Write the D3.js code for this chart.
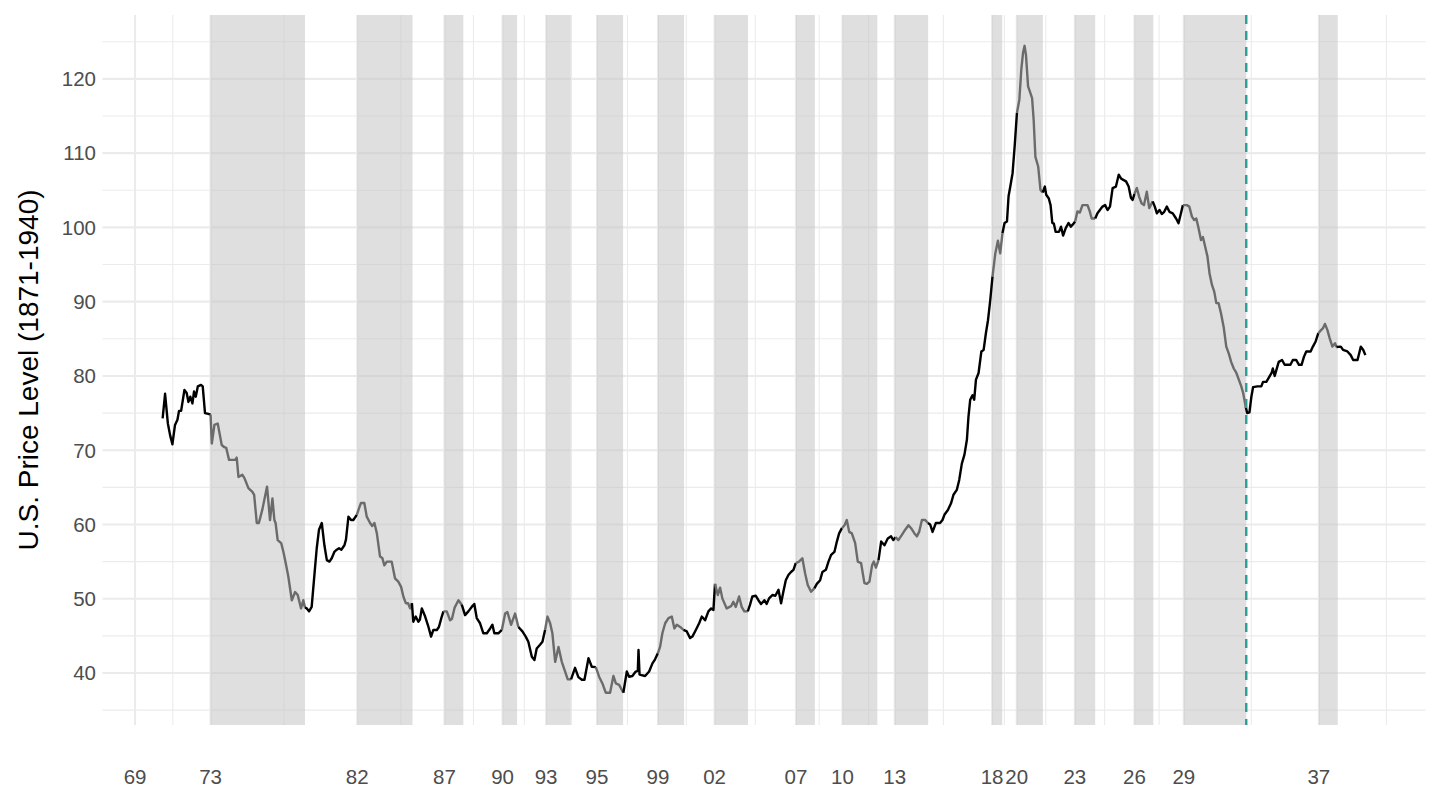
<!DOCTYPE html>
<html>
<head>
<meta charset="utf-8">
<script src="https://cdn.jsdelivr.net/npm/d3@7/dist/d3.min.js"></script>
<style>
  html, body { margin: 0; padding: 0; background: #ffffff; }
  svg { display: block; }
  text { font-family: "Liberation Sans", Arial, Helvetica, sans-serif; }
</style>
</head>
<body>
<svg id="chart" width="1440" height="810"></svg>
<script>
// ---- data (decimal years, price level) ----
const dates = [
1871.00,1871.14,1871.30,1871.43,1871.56,1871.71,1871.85,1871.94,1872.06,1872.25,1872.38,1872.48,1872.59,1872.71,1872.80,1872.90,
1873.02,1873.20,1873.30,1873.43,1873.62,1873.75,1873.82,1873.97,1874.16,1874.39,1874.54,1874.65,1874.81,1875.16,1875.25,1875.35,
1875.57,1875.70,1875.92,1876.15,1876.25,1876.40,1876.52,1876.72,1876.99,1877.16,1877.30,1877.41,1877.48,1877.60,1877.80,1877.93,
1878.06,1878.21,1878.41,1878.60,1878.75,1878.94,1879.07,1879.17,1879.27,1879.40,1879.55,1879.70,1879.84,1879.97,1880.13,1880.28,
1880.42,1880.57,1880.70,1880.85,1880.99,1881.12,1881.25,1881.43,1881.52,1881.66,1881.81,1881.94,1882.14,1882.27,1882.38,1882.57,
1882.71,1882.90,1883.02,1883.15,1883.29,1883.47,1883.60,1883.72,1883.86,1884.14,1884.33,1884.52,1884.68,1884.81,1884.95,1885.08,
1885.20,1885.30,1885.38,1885.52,1885.67,1885.76,1885.87,1886.06,1886.25,1886.40,1886.53,1886.73,1886.85,1887.00,1887.11,1887.30,
1887.49,1887.60,1887.75,1887.97,1888.16,1888.35,1888.54,1888.73,1888.88,1889.02,1889.21,1889.40,1889.60,1889.79,1889.92,1890.03,
1890.26,1890.46,1890.65,1890.78,1890.99,1891.22,1891.41,1891.64,1891.83,1891.98,1892.18,1892.33,1892.46,1892.65,1892.79,1892.94,
1893.08,1893.23,1893.36,1893.52,1893.71,1893.90,1894.09,1894.24,1894.43,1894.66,1894.85,1895.05,1895.20,1895.43,1895.62,1895.85,
1896.04,1896.23,1896.42,1896.67,1896.86,1897.00,1897.19,1897.43,1897.63,1897.76,1897.95,1898.14,1898.26,1898.30,1898.36,1898.41,
1898.68,1898.91,1899.10,1899.25,1899.41,1899.54,1899.67,1899.83,1900.02,1900.21,1900.36,1900.50,1900.69,1900.88,1901.07,1901.26,
1901.39,1901.59,1901.78,1901.93,1902.12,1902.31,1902.47,1902.60,1902.69,1902.85,1902.98,1903.11,1903.36,1903.61,1903.74,1903.88,
1904.07,1904.22,1904.37,1904.57,1904.70,1904.83,1905.03,1905.18,1905.33,1905.52,1905.65,1905.79,1905.98,1906.15,1906.33,1906.48,
1906.61,1906.75,1906.90,1907.05,1907.19,1907.32,1907.51,1907.70,1907.86,1908.01,1908.20,1908.39,1908.53,1908.72,1908.85,1909.05,
1909.20,1909.35,1909.54,1909.68,1909.81,1909.97,1910.12,1910.25,1910.39,1910.54,1910.73,1910.88,1911.07,1911.26,1911.40,1911.55,
1911.70,1911.80,1911.92,1912.07,1912.22,1912.41,1912.60,1912.79,1912.92,1913.05,1913.21,1913.41,1913.60,1913.79,1913.94,1914.13,
1914.27,1914.40,1914.56,1914.75,1914.90,1915.03,1915.17,1915.36,1915.60,1915.74,1915.85,1916.05,1916.23,1916.37,1916.56,1916.70,
1916.85,1917.00,1917.14,1917.23,1917.33,1917.46,1917.56,1917.66,1917.81,1917.97,1918.10,1918.23,1918.35,1918.48,1918.61,1918.77,
1918.92,1919.05,1919.18,1919.30,1919.44,1919.53,1919.63,1919.76,1919.88,1920.01,1920.15,1920.26,1920.36,1920.45,1920.53,1920.65,
1920.78,1920.88,1920.97,1921.07,1921.23,1921.36,1921.49,1921.61,1921.69,1921.84,1921.94,1922.04,1922.13,1922.23,1922.42,1922.54,
1922.66,1922.81,1922.97,1923.10,1923.22,1923.35,1923.48,1923.62,1923.77,1924.06,1924.19,1924.30,1924.50,1924.63,1924.77,1924.92,
1925.07,1925.21,1925.35,1925.50,1925.69,1925.85,1925.98,1926.11,1926.27,1926.42,1926.55,1926.65,1926.75,1926.89,1927.02,1927.16,
1927.30,1927.46,1927.60,1927.80,1927.92,1928.04,1928.19,1928.32,1928.46,1928.61,1928.76,1928.95,1929.14,1929.28,1929.42,1929.53,
1929.76,1929.90,1930.05,1930.18,1930.30,1930.43,1930.57,1930.68,1930.81,1930.94,1931.06,1931.20,1931.33,1931.45,1931.58,1931.72,
1931.87,1932.02,1932.16,1932.30,1932.45,1932.60,1932.74,1932.88,1932.99,1933.13,1933.22,1933.35,1933.46,1933.56,1933.80,1934.03,
1934.13,1934.32,1934.47,1934.62,1934.69,1934.80,1934.95,1935.03,1935.22,1935.37,1935.70,1935.84,1936.03,1936.19,1936.34,1936.48,
1936.61,1936.86,1936.99,1937.14,1937.30,1937.43,1937.56,1937.68,1937.82,1937.95,1938.11,1938.26,1938.34,1938.59,1938.72,1938.97,
1939.16,1939.30,1939.55,1939.74,1939.88,1940.00
];
const prices = [
74.3,77.6,73.6,72.0,70.8,73.4,74.1,75.3,75.3,78.1,77.7,76.5,77.2,76.3,77.9,77.2,
78.6,78.8,78.6,75.0,74.9,74.8,70.9,73.4,73.6,70.7,70.4,70.3,68.7,68.7,69.0,66.4,
66.7,66.2,64.9,64.4,64.0,60.2,60.2,62.0,65.1,60.6,63.5,60.6,60.2,57.9,57.5,56.3,
54.8,53.0,49.8,50.9,50.5,48.7,49.8,48.8,48.7,48.3,48.9,53.0,56.8,59.3,60.2,57.2,
55.2,55.0,55.45,56.3,56.6,56.8,56.6,57.2,58.0,61.05,60.6,60.6,61.3,62.2,62.9,62.9,
61.05,60.2,59.8,60.2,58.8,55.7,55.5,54.5,55.0,55.0,52.75,52.3,51.6,50.3,49.4,49.4,
48.7,49.4,46.9,47.6,46.9,47.2,48.7,47.6,46.2,44.9,45.8,45.8,46.2,47.5,48.3,48.3,
47.1,47.3,48.8,49.8,49.2,47.8,48.3,48.9,49.3,47.4,46.7,45.35,45.35,46.0,46.5,45.35,
45.35,45.8,48.0,48.2,46.5,48.0,46.2,45.6,44.9,44.2,42.2,41.75,43.3,43.8,44.2,45.8,
47.6,46.7,45.35,41.5,43.5,41.5,40.2,39.15,39.15,40.7,39.45,39.1,39.1,42.0,40.85,40.8,
39.5,38.6,37.35,37.35,39.6,38.6,38.4,37.35,40.2,39.5,39.6,40.2,40.3,43.1,39.8,39.75,
39.6,40.2,41.3,41.85,42.65,43.55,45.35,46.7,47.4,47.6,46.0,46.5,46.2,45.8,45.6,44.7,
44.9,45.8,46.7,47.6,47.1,48.3,48.7,48.5,52.0,50.5,51.5,50.05,48.7,49.0,49.6,48.9,
50.3,48.9,48.3,48.3,49.2,50.3,50.4,49.8,49.3,49.8,49.3,50.05,50.5,50.4,51.2,49.4,
50.95,52.5,53.2,53.6,53.9,54.8,55.0,55.45,53.4,51.85,50.95,51.4,52.0,52.5,53.6,53.9,
55.0,55.9,56.3,57.7,58.8,59.5,59.9,60.6,59.0,58.8,57.5,55.0,54.8,52.1,52.0,52.3,
54.5,55.0,54.2,55.2,57.7,57.2,58.1,58.4,57.9,58.3,57.9,58.6,59.3,59.9,59.5,58.8,
58.4,59.0,60.6,60.6,60.2,60.0,59.0,60.2,60.2,60.6,61.3,61.95,62.85,64.0,64.65,66.0,
68.2,69.4,71.4,74.5,76.8,77.4,76.8,79.5,80.4,83.3,83.5,85.75,87.5,90.2,93.4,96.5,
98.2,96.5,99.2,100.6,100.8,104.2,105.5,107.3,110.9,115.4,117.2,121.2,123.5,124.45,123.2,119.0,
118.1,117.4,114.5,109.5,108.2,105.05,104.7,105.5,104.4,103.9,103.0,100.6,100.5,99.4,99.4,100.1,
98.9,99.9,100.6,100.1,100.4,100.8,102.15,102.0,103.0,103.0,102.15,101.2,101.2,101.9,102.35,102.8,
103.0,102.35,102.8,105.3,105.5,107.1,106.6,106.4,106.2,105.5,104.0,103.7,104.5,105.3,104.15,103.25,
103.0,104.8,102.6,103.5,102.8,101.9,102.35,101.8,102.1,102.8,102.1,101.9,101.2,100.55,101.9,103.0,
103.0,102.8,101.45,101.0,101.2,99.9,98.3,98.7,97.4,96.1,93.8,92.25,91.35,89.8,89.8,88.4,
86.6,83.95,83.05,81.9,81.0,80.4,79.5,78.6,77.7,75.9,75.0,75.1,77.2,78.5,78.6,78.6,
79.2,79.2,79.8,80.4,81.0,80.0,81.25,81.9,82.15,81.5,81.5,82.15,82.15,81.5,81.5,82.6,
83.3,83.3,83.95,84.6,85.75,86.1,86.4,87.0,86.2,85.1,83.95,84.4,83.9,83.95,83.5,83.3,
82.8,82.15,82.15,83.95,83.5,82.8
];

// NBER recessions (peak, trough)
const recessionStart = ["1873-10","1882-03","1887-03","1890-07","1893-01","1895-12","1899-06","1902-09","1907-05","1910-01","1913-01","1918-08","1920-01","1923-05","1926-10","1929-08","1937-05"];
const recessionEnd   = ["1879-03","1885-05","1888-04","1891-05","1894-06","1897-06","1900-12","1904-08","1908-06","1912-01","1914-12","1919-03","1921-07","1924-07","1927-11","1933-03","1938-06"];
const tickDates  = ["1869-06","1873-10","1882-03","1887-03","1890-07","1893-01","1895-12","1899-06","1902-09","1907-05","1910-01","1913-01","1918-08","1920-01","1923-05","1926-10","1929-08","1937-05"];
const tickLabels = ["69","73","82","87","90","93","95","99","02","07","10","13","18","20","23","26","29","37"];
const yTicks = [40,50,60,70,80,90,100,110,120];
const markerDate = "1933-03";
const yTitle = "U.S. Price Level (1871-1940)";

// ---- helpers ----
const ym = s => { const [y,m] = s.split("-").map(Number); return y + (m-1)/12; };

const svg = d3.select("#chart");
const panel = {left: 102.5, right: 1425.5, top: 15, bottom: 725};

const x = d3.scaleLinear().domain([1867.55, 1943.45]).range([panel.left, panel.right]);
const y = d3.scaleLinear().domain([33.0, 128.6]).range([panel.bottom, panel.top]);

const starts = recessionStart.map(ym), ends = recessionEnd.map(ym);
const breaks = tickDates.map(ym);
const inRec = t => starts.some((s,i) => t >= s && t < ends[i]);

// grid
const g = svg.append("g");
const minorX = [];
for (let i = 0; i < breaks.length - 1; i++) minorX.push((breaks[i] + breaks[i+1]) / 2);
minorX.push(breaks[breaks.length-1] + (breaks[breaks.length-1] - breaks[breaks.length-2]) / 2);
const minorY = [35,45,55,65,75,85,95,105,115,125];

g.selectAll(".minx").data(minorX).join("line")
  .attr("x1", d => x(d)).attr("x2", d => x(d))
  .attr("y1", panel.top).attr("y2", panel.bottom)
  .attr("stroke", "#ebebeb").attr("stroke-width", 1.1);
g.selectAll(".miny").data(minorY).join("line")
  .attr("x1", panel.left).attr("x2", panel.right)
  .attr("y1", d => y(d)).attr("y2", d => y(d))
  .attr("stroke", "#ebebeb").attr("stroke-width", 1.1);
g.selectAll(".majx").data(breaks).join("line")
  .attr("x1", d => x(d)).attr("x2", d => x(d))
  .attr("y1", panel.top).attr("y2", panel.bottom)
  .attr("stroke", "#ebebeb").attr("stroke-width", 2.1);
g.selectAll(".majy").data(yTicks).join("line")
  .attr("x1", panel.left).attr("x2", panel.right)
  .attr("y1", d => y(d)).attr("y2", d => y(d))
  .attr("stroke", "#ebebeb").attr("stroke-width", 2.1);

// recession shading
svg.append("g").selectAll("rect").data(starts).join("rect")
  .attr("x", (d) => x(d))
  .attr("width", (d,i) => x(ends[i]) - x(d))
  .attr("y", panel.top).attr("height", panel.bottom - panel.top)
  .attr("fill", "#c5c5c5").attr("fill-opacity", 0.55);

// line, colored by recession state
const pts = dates.map((d,i) => ({t: d, v: prices[i]}));
const lg = svg.append("g").attr("fill", "none").attr("stroke-width", 2.4)
  .attr("stroke-linejoin", "round").attr("stroke-linecap", "butt");
let runs = [], cur = null;
for (let i = 0; i < pts.length - 1; i++) {
  const mid = (pts[i].t + pts[i+1].t) / 2;
  const r = inRec(mid);
  if (!cur || cur.r !== r) { cur = {r, p: [pts[i]]}; runs.push(cur); }
  cur.p.push(pts[i+1]);
}
const line = d3.line().x(d => x(d.t)).y(d => y(d.v));
lg.selectAll("path").data(runs).join("path")
  .attr("d", d => line(d.p))
  .attr("stroke", d => d.r ? "#6b6b6b" : "#000000");

// marker line
svg.append("line")
  .attr("x1", x(ym(markerDate))).attr("x2", x(ym(markerDate)))
  .attr("y1", panel.top).attr("y2", panel.bottom)
  .attr("stroke", "#2a9d96").attr("stroke-width", 2.4)
  .attr("stroke-dasharray", "9,7");

// axes labels
svg.append("g").selectAll("text").data(breaks).join("text")
  .attr("x", d => x(d)).attr("y", 783.5)
  .attr("text-anchor", "middle")
  .attr("font-size", 20.5).attr("fill", "#4d4d4d")
  .text((d,i) => tickLabels[i]);

svg.append("g").selectAll("text").data(yTicks).join("text")
  .attr("x", 96).attr("y", d => y(d) + 7.3)
  .attr("text-anchor", "end")
  .attr("font-size", 20.5).attr("fill", "#4d4d4d")
  .text(d => d);

svg.append("text")
  .attr("transform", `translate(38, ${(panel.top + panel.bottom)/2}) rotate(-90)`)
  .attr("text-anchor", "middle")
  .attr("font-size", 28).attr("fill", "#000000")
  .text(yTitle);
</script>
</body>
</html>
